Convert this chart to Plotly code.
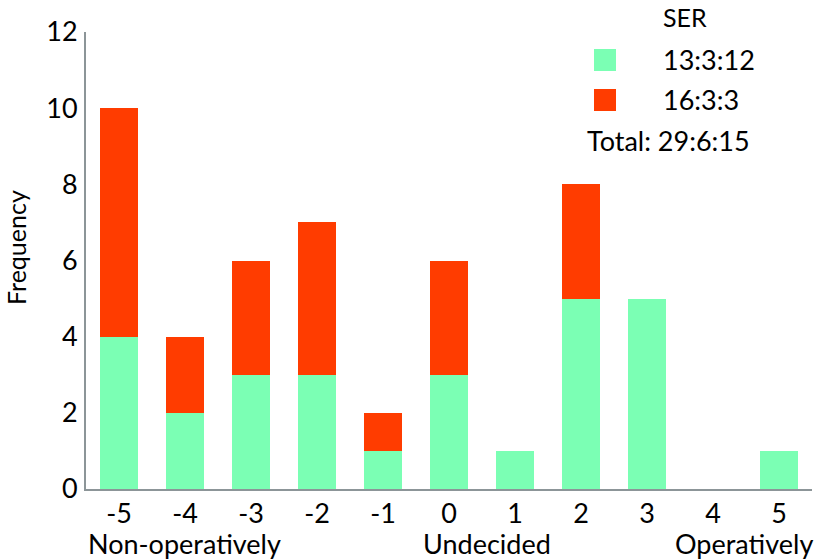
import plotly.graph_objects as go

categories = [-5, -4, -3, -2, -1, 0, 1, 2, 3, 4, 5]
green_vals = [4, 2, 3, 3, 1, 3, 1, 5, 5, 0, 1]
red_vals = [6, 2, 3, 4, 1, 3, 0, 3, 0, 0, 0]
series_names = ["13:3:12", "16:3:3"]
legend_title = "SER"
total_label = "Total: 29:6:15"
y_title = "Frequency"
y_ticks = [0, 2, 4, 6, 8, 10, 12]
group_labels = ["Non-operatively", "Undecided", "Operatively"]

GREEN = "#7BFFB4"
RED = "#FF3C00"
FONT = "Lato"
FS = 27

fig = go.Figure()
fig.add_trace(go.Bar(x=categories, y=green_vals, marker=dict(color=GREEN, line=dict(width=0)),
                     name=series_names[0], showlegend=False))
fig.add_trace(go.Bar(x=categories, y=red_vals, marker=dict(color=RED, line=dict(width=0)),
                     name=series_names[1], showlegend=False))

W, H = 822, 560
L, R, T, B = 86, 10, 32, 71
pw, ph = W - L - R, H - T - B

def px(x):
    return (x - L) / pw

def py(y):
    return (H - B - y) / ph

fig.update_layout(
    width=W, height=H, barmode="stack", bargap=0.424,
    margin=dict(l=L, r=R, t=T, b=B),
    plot_bgcolor="white", paper_bgcolor="white",
    font=dict(family=FONT, size=FS, color="black"),
    xaxis=dict(range=[-5.5, 5.5], tickmode="array", tickvals=categories,
               ticktext=[str(c) for c in categories], showgrid=False, zeroline=False,
               showline=True, linecolor="#8C9598", linewidth=2, ticks="",
               tickfont=dict(size=FS)),
    yaxis=dict(range=[0, 12], tickmode="array", tickvals=y_ticks, showgrid=False,
               zeroline=False, showline=True, linecolor="#8C9598", linewidth=2, ticks="",
               tickfont=dict(size=FS), ticklabelstandoff=1),
)

ann = []
ann.append(dict(text=y_title, x=px(16), y=py(248), xref="paper", yref="paper",
                showarrow=False, textangle=-90, xanchor="center", yanchor="middle",
                font=dict(size=25)))
for text, cx in zip(group_labels, [184, 487, 744]):
    ann.append(dict(text=text, x=px(cx), y=py(543), xref="paper", yref="paper",
                    showarrow=False, xanchor="center", yanchor="middle", font=dict(size=FS)))
ann.append(dict(text=legend_title, x=px(685), y=py(17), xref="paper", yref="paper",
                showarrow=False, xanchor="center", yanchor="middle", font=dict(size=25)))
for name, cy in zip(series_names, [60, 100]):
    ann.append(dict(text=name, x=px(661), y=py(cy), xref="paper", yref="paper",
                    showarrow=False, xanchor="left", yanchor="middle", font=dict(size=FS)))
ann.append(dict(text=total_label, x=px(585), y=py(140), xref="paper", yref="paper",
                showarrow=False, xanchor="left", yanchor="middle", font=dict(size=FS)))
fig.update_layout(annotations=ann)

shapes = []
for col, cy in zip([GREEN, RED], [60, 100]):
    shapes.append(dict(type="rect", xref="paper", yref="paper",
                       x0=px(594), x1=px(616), y0=py(cy + 11), y1=py(cy - 11),
                       fillcolor=col, line=dict(width=0)))
fig.update_layout(shapes=shapes)

fig.write_html("out.html", config={"displayModeBar": False},
               post_script="document.body.style.margin='0';")
